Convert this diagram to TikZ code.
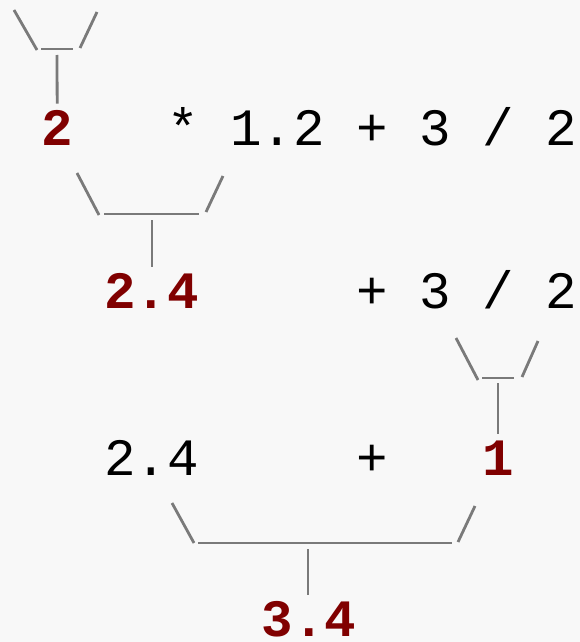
\documentclass[tikz,border=0pt]{standalone}
\usepackage{fontspec}
\setmonofont{Liberation Mono}
\definecolor{res}{HTML}{800000}
\definecolor{brk}{HTML}{7A7A7A}
\definecolor{bg}{HTML}{F8F8F8}
\begin{document}
\begin{tikzpicture}[x=1pt,y=-1pt,
  txt/.style={inner sep=0pt,anchor=base west,font=\fontsize{52.5}{60}\selectfont\ttfamily},
  restxt/.style={txt,text=res,font=\fontsize{52.5}{60}\selectfont\ttfamily\bfseries},
  brack/.style={draw=brk,line width=2.8pt},
  stem/.style={brack,shorten >=6pt}]
\fill[bg] (0,0) rectangle (580,642);
\useasboundingbox (0,0) rectangle (580,642);
% line 1
\node[restxt] (r1) at (41.25,145) {2};
\node[txt] (e1) at (167.25,145) {* 1.2 + 3 / 2};
% line 2
\node[restxt] (r2) at (104.25,308) {2.4};
\node[txt] (e2) at (356.25,308) {+ 3 / 2};
% line 3
\node[txt] (a3) at (104.25,475) {2.4};
\node[txt] (p3) at (356.25,475) {+};
\node[restxt] (r3) at (482.25,475) {1};
% line 4
\node[restxt] (r4) at (261.75,636) {3.4};
% bracket 1
\draw[brack] (14,10) -- (37,50);
\draw[brack] (41,49) -- (73,49);
\draw[brack] (97,12) -- (80,48);
\coordinate (m1) at (57,55);
\draw[stem] (m1) -- (r1.north);
% bracket 2
\draw[brack] (77,173) -- (99,215);
\draw[brack] (104,214) -- (199,214);
\draw[brack] (223,176) -- (206,212);
\coordinate (m2) at (152,220);
\draw[stem] (m2) -- (m2 |- r2.north);
% bracket 3
\draw[brack] (456,338) -- (478,380);
\draw[brack] (482,378) -- (514,378);
\draw[brack] (538,341) -- (522,377);
\coordinate (m3) at (498,383);
\draw[stem] (m3) -- (m3 |- r3.north);
% bracket 4
\draw[brack] (172,503) -- (194,543);
\draw[brack] (198,543) -- (452,543);
\draw[brack] (475,506) -- (458,542);
\coordinate (m4) at (308,549);
\draw[stem] (m4) -- (m4 |- r4.north);
\end{tikzpicture}
\end{document}
